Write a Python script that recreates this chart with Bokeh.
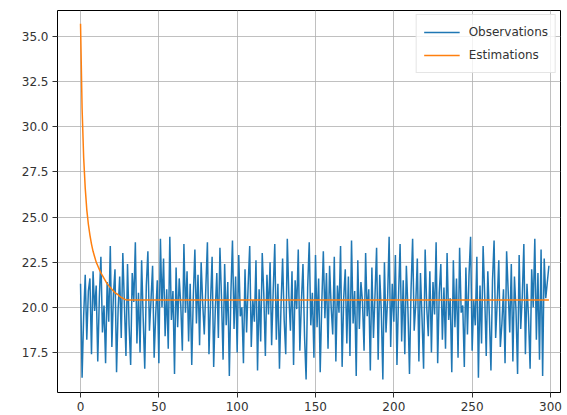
from bokeh.plotting import figure
from bokeh.models import FixedTicker, NumeralTickFormatter, Range1d, Legend, LegendItem
from bokeh.embed import file_html
from bokeh.resources import INLINE

observations = [
    21.3, 16.1, 19.5, 21.8, 18.2, 20.9, 21.6, 17.4, 22.0, 19.8, 21.2, 17.0, 20.5, 22.8, 18.6, 20.1, 16.9, 21.4, 19.2, 23.4,
    17.8, 20.7, 22.1, 16.4, 19.9, 21.7, 18.3, 23.0, 20.2, 17.3, 22.4, 19.0, 16.8, 21.9, 20.3, 23.6, 18.0, 20.8, 17.5, 22.6,
    19.4, 16.6, 21.2, 23.1, 18.7, 20.4, 22.3, 17.2, 19.6, 21.5, 16.9, 23.8, 20.0, 22.7, 18.4, 21.0, 17.7, 23.9, 19.3, 20.9,
    16.3, 22.2, 18.9, 21.6, 20.1, 17.6, 23.5, 19.7, 22.0, 18.1, 21.3, 16.8, 20.6, 23.2, 19.1, 21.8, 17.9, 22.5, 20.2, 18.5,
    21.1, 23.6, 17.4, 20.3, 22.8, 16.7, 19.8, 21.9, 18.3, 23.3, 20.5, 17.1, 22.4, 19.0, 21.4, 16.2, 20.8, 23.7, 18.8, 21.7,
    17.5, 22.9, 19.5, 20.0, 16.9, 22.1, 18.6, 21.2, 23.4, 17.8, 20.4, 19.2, 22.6, 16.5, 21.0, 18.1, 23.0, 20.7, 17.3, 21.8,
    19.6, 22.5, 17.9, 20.9, 23.5, 18.2, 21.3, 16.6, 20.1, 22.7, 19.3, 17.4, 23.8, 20.6, 18.7, 22.0, 16.8, 21.5, 19.9, 23.2,
    17.6, 20.3, 22.4, 18.4, 16.0, 21.1, 23.6, 19.0, 20.8, 17.2, 22.9, 18.9, 21.6, 16.4, 20.2, 23.1, 19.4, 21.9, 17.7, 22.3,
    20.0, 18.5, 22.8, 17.0, 21.2, 19.7, 23.4, 16.7, 20.5, 22.1, 18.0, 21.7, 17.3, 23.7, 19.1, 20.9, 16.2, 22.6, 18.8, 21.4,
    20.3, 17.6, 23.0, 19.5, 21.0, 16.5, 22.2, 18.3, 20.7, 23.3, 17.1, 21.8, 19.8, 16.0, 22.5, 18.6, 20.4, 23.9, 17.8, 21.3,
    19.2, 22.9, 16.8, 20.6, 23.5, 18.1, 21.5, 17.4, 22.3, 19.9, 16.3, 21.0, 23.8, 18.7, 20.2, 22.7, 17.0, 21.9, 19.4, 16.6,
    23.2, 20.0, 18.4, 22.0, 17.5, 21.4, 19.6, 23.6, 16.9, 20.8, 22.4, 18.2, 21.1, 17.7, 23.0, 19.3, 20.5, 16.4, 22.6, 18.9,
    21.6, 17.2, 23.3, 19.7, 20.1, 16.7, 22.2, 18.5, 21.8, 23.9, 17.6, 20.4, 19.0, 22.8, 16.1, 21.2, 18.0, 23.4, 20.7, 17.3,
    22.0, 19.5, 16.5, 21.5, 23.7, 18.3, 20.3, 22.6, 17.8, 19.1, 21.0, 16.9, 23.1, 20.9, 18.6, 22.4, 17.0, 21.7, 19.8, 16.3,
    22.9, 18.8, 20.6, 23.5, 17.4, 21.3, 19.4, 16.6, 22.1, 20.0, 23.8, 18.2, 21.9, 17.1, 23.2, 16.2, 22.7, 20.5, 21.4, 22.3,
]

estimations_start = [
    35.7, 31.0, 28.3, 26.6, 25.4, 24.6, 24.0, 23.5, 23.1, 22.8,
    22.5, 22.3, 22.1, 21.9, 21.75, 21.6, 21.45, 21.3, 21.2, 21.1,
    21.0, 20.9, 20.8, 20.75, 20.7, 20.6, 20.55, 20.5, 20.45, 20.42,
]
estimation_level = 20.4
estimations = estimations_start + [estimation_level] * (len(observations) - len(estimations_start))

steps = list(range(len(observations)))

x_ticks = [0, 50, 100, 150, 200, 250, 300]
y_ticks = [17.5, 20.0, 22.5, 25.0, 27.5, 30.0, 32.5, 35.0]

p = figure(width=567, height=415, output_backend="svg", toolbar_location=None,
           x_range=Range1d(-14.7, 306.4), y_range=Range1d(15.28, 36.44),
           min_border_left=57, min_border_right=7, min_border_top=10, min_border_bottom=23)

p.background_fill_color = "white"
p.border_fill_color = "white"
p.outline_line_color = "black"
p.outline_line_width = 1

r_obs = p.line(steps, observations, line_color="#1f77b4", line_width=1.5)
r_est = p.line(steps, estimations, line_color="#ff7f0e", line_width=1.5)

for ax in (p.xaxis[0], p.yaxis[0]):
    ax.axis_line_color = None
    ax.major_tick_line_color = "#333333"
    ax.major_tick_in = 0
    ax.major_tick_out = 5
    ax.minor_tick_line_color = None
    ax.major_label_text_font = "DejaVu Sans"
    ax.major_label_text_font_size = "12px"
    ax.major_label_text_color = "#333333"
    ax.major_label_standoff = 4

p.xaxis.ticker = FixedTicker(ticks=x_ticks)
p.yaxis.ticker = FixedTicker(ticks=y_ticks)
p.yaxis.formatter = NumeralTickFormatter(format="0.0")

p.xgrid.ticker = FixedTicker(ticks=x_ticks)
p.ygrid.ticker = FixedTicker(ticks=y_ticks)
p.grid.grid_line_color = "#b0b0b0"
p.grid.grid_line_width = 0.8

legend = Legend(items=[LegendItem(label="Observations", renderers=[r_obs]),
                       LegendItem(label="Estimations", renderers=[r_est])],
                location="top_right")
legend.label_text_font = "DejaVu Sans"
legend.label_text_font_size = "12px"
legend.label_text_color = "#333333"
legend.glyph_width = 36
legend.glyph_height = 20
legend.label_height = 20
legend.label_standoff = 9
legend.spacing = 3
legend.padding = 7
legend.margin = 4
legend.border_line_color = "#cccccc"
legend.border_line_width = 1
legend.background_fill_alpha = 0.8
p.add_layout(legend)

open("out.html", "w").write(file_html(p, INLINE))
